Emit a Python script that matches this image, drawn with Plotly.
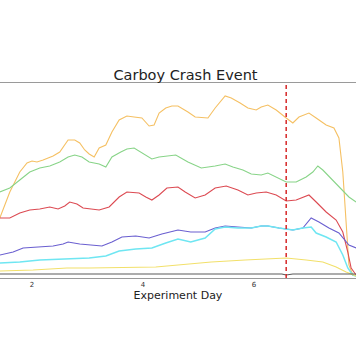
import plotly.graph_objects as go

# ---- data ----
orange_x = [1.42, 1.60, 1.78, 1.91, 2.00, 2.09, 2.20, 2.38, 2.50, 2.59, 2.65, 2.77, 2.86, 2.95, 3.03, 3.12, 3.21, 3.33, 3.44, 3.57, 3.71, 3.84, 3.98, 4.11, 4.20, 4.29, 4.41, 4.52, 4.63, 4.81, 4.94, 5.17, 5.30, 5.48, 5.59, 5.75, 5.89, 6.04, 6.13, 6.25, 6.40, 6.58, 6.70, 6.81, 6.99, 7.12, 7.30, 7.44, 7.53, 7.60, 7.66, 7.71, 7.78, 7.84]
orange_y = [60, 86, 106, 115, 117, 116, 118, 122, 126, 133, 138, 138, 135, 128, 124, 121, 130, 133, 146, 158, 162, 161, 160, 152, 153, 165, 170, 172, 172, 166, 161, 160, 170, 182, 180, 175, 170, 168, 171, 173, 168, 160, 155, 161, 165, 160, 153, 150, 140, 106, 60, 13, 3, 2]

green_x = [1.42, 1.60, 1.78, 1.96, 2.14, 2.32, 2.50, 2.65, 2.77, 2.90, 3.03, 3.21, 3.33, 3.44, 3.60, 3.71, 3.84, 3.98, 4.16, 4.29, 4.47, 4.59, 4.81, 5.05, 5.30, 5.48, 5.62, 5.80, 5.95, 6.13, 6.25, 6.40, 6.58, 6.76, 6.94, 7.06, 7.15, 7.24, 7.42, 7.60, 7.71, 7.84]
green_y = [86, 90, 98, 106, 110, 112, 116, 121, 123, 121, 116, 114, 111, 121, 126, 129, 130, 125, 119, 121, 122, 123, 116, 110, 112, 114, 111, 108, 104, 103, 105, 101, 96, 96, 101, 106, 112, 108, 98, 88, 81, 76]

red_x = [1.42, 1.60, 1.78, 1.96, 2.14, 2.32, 2.47, 2.59, 2.68, 2.81, 2.92, 3.03, 3.21, 3.39, 3.57, 3.71, 3.93, 4.05, 4.16, 4.29, 4.43, 4.63, 4.76, 4.94, 5.12, 5.30, 5.50, 5.71, 5.89, 6.04, 6.22, 6.40, 6.58, 6.76, 6.99, 7.12, 7.30, 7.48, 7.60, 7.69, 7.75, 7.84]
red_y = [60, 60, 65, 68, 69, 71, 69, 72, 76, 74, 70, 69, 68, 71, 81, 86, 85, 81, 78, 83, 90, 91, 86, 80, 83, 90, 92, 88, 83, 85, 86, 83, 77, 78, 83, 76, 66, 58, 46, 26, 10, 3]

purple_x = [1.42, 1.66, 1.84, 2.09, 2.38, 2.56, 2.65, 2.86, 3.03, 3.26, 3.44, 3.62, 3.87, 4.11, 4.34, 4.63, 4.86, 5.12, 5.30, 5.48, 5.71, 5.95, 6.13, 6.25, 6.45, 6.70, 6.88, 7.03, 7.17, 7.35, 7.53, 7.71, 7.84]
purple_y = [23, 26, 30, 31, 32, 34, 36, 34, 33, 32, 36, 41, 42, 40, 44, 48, 46, 46, 50, 52, 51, 50, 52, 52, 50, 48, 50, 60, 56, 50, 45, 33, 30]

cyan_x = [1.42, 1.78, 2.14, 2.50, 2.81, 3.03, 3.33, 3.57, 3.87, 4.16, 4.41, 4.63, 4.86, 5.12, 5.30, 5.48, 5.71, 5.95, 6.13, 6.25, 6.45, 6.70, 6.88, 7.03, 7.12, 7.30, 7.48, 7.60, 7.69, 7.78, 7.84]
cyan_y = [15, 16, 18, 19, 20, 20, 22, 27, 29, 30, 35, 39, 36, 40, 49, 51, 50, 50, 52, 52, 50, 48, 50, 51, 45, 41, 36, 23, 10, 3, 2]

yellow_x = [1.42, 2.02, 2.63, 3.03, 4.23, 4.63, 5.23, 5.84, 6.23, 6.58, 6.94, 7.24, 7.48, 7.66, 7.84]
yellow_y = [7, 8, 10, 10, 11, 13, 16, 18, 19, 20, 18, 16, 11, 6, 2]

gray_x = [1.42, 2.00, 2.50, 3.00, 3.50, 4.00, 4.50, 5.00, 5.50, 6.00, 6.50, 6.58, 6.70, 7.00, 7.50, 7.84]
gray_y = [4, 4, 4, 4, 4, 4, 4, 4, 4, 4, 4, 3, 4, 4, 4, 4]

crash_day = 6.58
x_ticks = [2, 4, 6]
title_text = "Carboy Crash Event"
x_title = "Experiment Day"

series = [
    (orange_x, orange_y, "#f5c063", 1.1),
    (green_x, green_y, "#88d488", 1.1),
    (red_x, red_y, "#dc4a52", 1.1),
    (purple_x, purple_y, "#6a5fd0", 1.1),
    (cyan_x, cyan_y, "#6fe6f2", 1.5),
    (yellow_x, yellow_y, "#f2e06a", 1.1),
    (gray_x, gray_y, "#5a5a5a", 1.1),
]

fig = go.Figure()
for xs, ys, col, w in series:
    fig.add_trace(go.Scatter(x=xs, y=ys, mode="lines",
                             line=dict(color=col, width=w),
                             showlegend=False, hoverinfo="skip"))

fig.add_shape(type="line", x0=crash_day, x1=crash_day, y0=0, y1=1,
              xref="x", yref="paper",
              line=dict(color="#d62728", width=1.5, dash="4px,3px"))

fig.update_layout(
    width=356, height=364,
    margin=dict(l=0, r=0, t=83, b=86, pad=0),
    paper_bgcolor="white", plot_bgcolor="white",
    font=dict(family="DejaVu Sans", color="#222"),
    title=dict(text=title_text, x=0.521, xanchor="center",
               y=1 - 75 / 364, yanchor="middle",
               font=dict(size=14.5, color="#222")),
    xaxis=dict(range=[1.4234, 7.8378], tickvals=x_ticks,
               showgrid=False, zeroline=False,
               showline=True, mirror=True, linecolor="#9a9a9a", linewidth=1,
               ticks="", tickfont=dict(size=7, color="#333"),
               title=dict(text=x_title, font=dict(size=11, color="#222"),
                          standoff=1)),
    yaxis=dict(range=[0, 195], showgrid=False, zeroline=False,
               showline=False, showticklabels=False, ticks=""),
)

fig.write_html("out.html", config={"displayModeBar": False},
               post_script="document.body.style.margin='0';")
